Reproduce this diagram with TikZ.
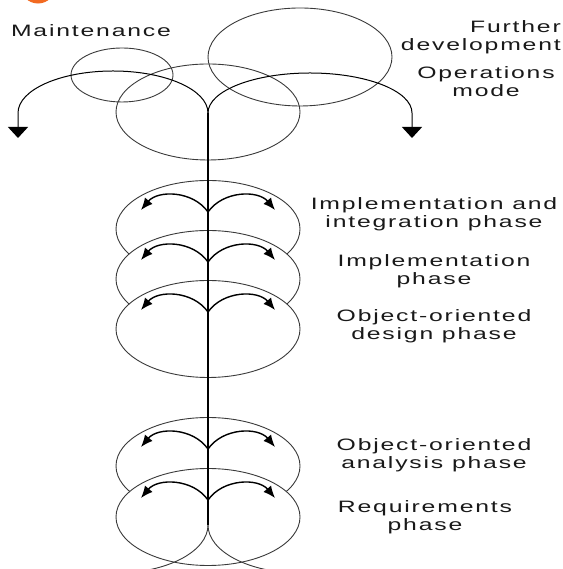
\documentclass[tikz,border=0pt]{standalone}
\usepackage{fontspec}
\setmainfont[FakeStretch=1.5,LetterSpace=11]{Liberation Sans}
\usetikzlibrary{arrows.meta,positioning,calc,shapes.geometric}
\definecolor{clRing}{HTML}{3A3A3A}
\definecolor{clLogo}{HTML}{F26A21}
\tikzset{
  ring/.style={ellipse, draw=clRing, line width=0.9pt, inner sep=0pt},
  phase/.style={ring, fill=white, minimum width=184pt, minimum height=97pt},
  stem/.style={draw=black, line width=1.4pt},
  rootline/.style={draw=clRing, line width=0.9pt},
  branch/.style={stem, -{Latex[length=12pt,width=10pt]}},
  bigbranch/.style={draw=black, line width=1pt, -{Triangle[length=11pt,width=20pt]}},
  phasetext/.style={font=\fontsize{16.5}{18}\selectfont, align=center, text=black!90, inner sep=0pt},
}
\begin{document}
\begin{tikzpicture}[x=1pt, y=1pt]
  \useasboundingbox (0,0) rectangle (562,569);
  \clip (0,0) rectangle (562,569);
  % logo remnant, top left
  \draw[clLogo, line width=5pt] (38,583) circle[radius=15];
  % operations mode
  \node[ring, minimum width=184pt, minimum height=96pt] (ops) at (208,457) {};
  \node[ring, minimum width=102pt, minimum height=54pt] (maint) at (122,494) {};
  \node[ring, minimum width=184pt, minimum height=98pt] (further) at (300,512) {};
  % phases
  \node[phase] (impint) at (208,340) {};
  \node[phase] (impl) at (208,290) {};
  \node[phase] (ood) at (208,240) {};
  \node[phase] (ooa) at (208,103) {};
  \node[phase] (req) at (208,52) {};
  % stem and branches
  \coordinate (top) at (208,456);
  \coordinate (root) at (208,44);
  \draw[rootline] (root) arc[start angle=0, end angle=-90, x radius=92, y radius=48];
  \draw[rootline] (root) arc[start angle=180, end angle=270, x radius=92, y radius=48];
  \draw[stem] (root) -- (top);
  \draw[bigbranch] (top) arc[start angle=0, end angle=180, x radius=95, y radius=42] -- ++(0,-25);
  \draw[bigbranch] (top) arc[start angle=180, end angle=0, x radius=102, y radius=40] -- ++(0,-25);
  \foreach \p in {impint,impl,ood,ooa,req} {
    \coordinate (\p-fork) at ([yshift=17pt]\p.center);
    \draw[branch] (\p-fork) to[out=125, in=50] ++(-67,2);
    \draw[branch] (\p-fork) to[out=55, in=130] ++(67,2);
  }
  % labels
  \node[phasetext] (tMaint) at (91,538) {Maintenance};
  \node[phasetext, align=right, anchor=east] (tFurther) at (561,532) {Further\\development};
  \node[phasetext] (tOps) at (486,487) {Operations\\mode};
  \node[phasetext] (tImpint) at (434,355) {Implementation and\\integration phase};
  \node[phasetext] (tImpl) at (434,298) {Implementation\\phase};
  \node[phasetext] (tOod) at (434,243) {Object-oriented\\design phase};
  \node[phasetext] (tOoa) at (434,114) {Object-oriented\\analysis phase};
  \node[phasetext] (tReq) at (425,52) {Requirements\\phase};
\end{tikzpicture}
\end{document}
